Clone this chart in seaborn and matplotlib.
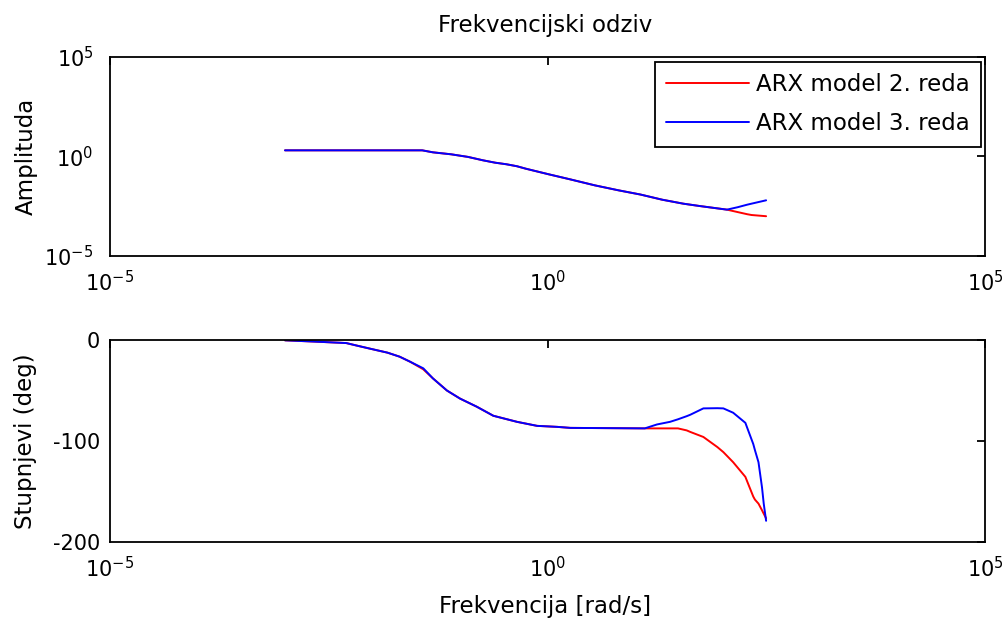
import matplotlib
matplotlib.use("Agg")
import matplotlib.pyplot as plt
from matplotlib.ticker import NullLocator
import seaborn as sns

# ---------------- data ----------------
freq_amp = [0.001, 0.037, 0.049, 0.079, 0.123, 0.182, 0.251, 0.339, 0.447, 0.562,
            1.02, 1.82, 3.47, 6.46, 11.5, 20.4, 35.5, 55.0, 112, 148, 191, 214, 314]
amp_arx2 = [2.04, 2.04, 1.62, 1.29, 0.955, 0.646, 0.49, 0.407, 0.324, 0.245,
            0.129, 0.0708, 0.0355, 0.020, 0.0123, 0.00676, 0.00427, 0.00324, 0.00214,
            0.00162, 0.00126, 0.00115, 0.001]
amp_arx3 = [2.04, 2.04, 1.62, 1.29, 0.955, 0.646, 0.49, 0.407, 0.324, 0.245,
            0.129, 0.0708, 0.0355, 0.020, 0.0123, 0.00676, 0.00427, 0.00324, 0.00214,
            0.00282, 0.0038, 0.00427, 0.0063]

freq_ph = [0.001, 0.0021, 0.005, 0.0066, 0.0093, 0.0148, 0.0204, 0.0269, 0.038, 0.049,
           0.0708, 0.1, 0.155, 0.24, 0.447, 0.759, 1.29, 1.82, 12.9, 17.8, 25.1, 30.9,
           38.9, 42.7, 60.3, 87.1, 102, 132, 182, 195, 224, 234, 257, 282, 295, 314]
phase_arx2 = [-0.3, -1.5, -3.0, -5.5, -8.5, -12.5, -16.5, -21.5, -29, -38,
              -50, -58, -66, -75, -81, -85, -86, -87, -87.5, -87.5, -87.5, -87.5,
              -89.5, -91, -96, -106, -111, -121, -135.5, -142, -155, -158, -162, -168.6, -172, -176.5]
phase_arx3 = [-0.3, -1.5, -3.0, -5.5, -8.5, -12.5, -16.5, -21.5, -28, -38,
              -50, -58, -66, -75, -81, -85, -86, -87, -87.5, -83.6, -81, -78.5,
              -75.4, -74, -67.7, -67.5, -67.7, -72, -82, -89, -103, -109, -121, -146, -162, -179]

labels = ["ARX model 2. reda", "ARX model 3. reda"]
colors = ["#ff0000", "#0000ff"]

title = "Frekvencijski odziv"
xlabel = "Frekvencija [rad/s]"
ylabel_amp = "Amplituda"
ylabel_ph = "Stupnjevi (deg)"

# ---------------- figure ----------------
sns.set_style("white")
plt.rcParams["font.family"] = ["DejaVu Sans"]
plt.rcParams["axes.unicode_minus"] = False
plt.rcParams["text.color"] = "black"
plt.rcParams["axes.labelcolor"] = "black"

fig = plt.figure(figsize=(10.06, 6.24), dpi=100)
ax1 = fig.add_axes([0.1093, 0.5897, 0.870, 0.319])
ax2 = fig.add_axes([0.1093, 0.1314, 0.870, 0.3237])

ax1.set_xscale("log")
ax1.set_yscale("log")
ax2.set_xscale("log")

lw = 1.4
sns.lineplot(x=freq_amp, y=amp_arx2, color=colors[0], lw=lw, label=labels[0],
             ax=ax1, sort=False, estimator=None)
sns.lineplot(x=freq_amp, y=amp_arx3, color=colors[1], lw=lw, label=labels[1],
             ax=ax1, sort=False, estimator=None)
sns.lineplot(x=freq_ph, y=phase_arx2, color=colors[0], lw=lw, legend=False,
             ax=ax2, sort=False, estimator=None)
sns.lineplot(x=freq_ph, y=phase_arx3, color=colors[1], lw=lw, legend=False,
             ax=ax2, sort=False, estimator=None)

for ax in (ax1, ax2):
    ax.set_xlim(1e-5, 1e5)
    ax.set_xticks([1e-5, 1e0, 1e5])
    ax.xaxis.set_minor_locator(NullLocator())
    for sp in ax.spines.values():
        sp.set_color("black")
        sp.set_linewidth(1.3)
        sp.set_visible(True)
    ax.tick_params(which="both", direction="in", length=6, width=1.3,
                   top=True, right=True, labelsize=15, colors="black")
    ax.tick_params(axis="x", pad=10)
    ax.set_xlabel("")
    ax.set_ylabel("")

ax1.set_ylim(1e-5, 1e5)
ax1.set_yticks([1e-5, 1e0, 1e5])
ax1.yaxis.set_minor_locator(NullLocator())
ax1.tick_params(axis="y", pad=12)

ax2.set_ylim(-200, 0)
ax2.set_yticks([-200, -100, 0])
ax2.tick_params(axis="y", pad=7)

# labels
ax1.set_ylabel(ylabel_amp, fontsize=16.5)
ax1.yaxis.label.set_va("center")
ax1.yaxis.set_label_coords(-0.095, 0.5)

ax2.set_ylabel(ylabel_ph, fontsize=16.5)
ax2.yaxis.label.set_va("center")
ax2.yaxis.set_label_coords(-0.097, 0.5)

ax2.set_xlabel(xlabel, fontsize=16.5)
ax2.xaxis.label.set_va("center")
ax2.xaxis.set_label_coords(0.497, -0.32)

ax1.text(0.497, 1.156, title, transform=ax1.transAxes, ha="center", va="center",
         fontsize=16.5)

leg = ax1.legend(loc="upper right", bbox_to_anchor=(0.995, 0.975), borderaxespad=0,
                 fancybox=False, edgecolor="black", framealpha=1, fontsize=16.5,
                 handlelength=3.6, handletextpad=0.3, labelspacing=0.7, borderpad=0.5)
leg.get_frame().set_linewidth(1.3)
for h in leg.get_lines():
    h.set_linewidth(lw)

fig.savefig("out.png", dpi=100)
